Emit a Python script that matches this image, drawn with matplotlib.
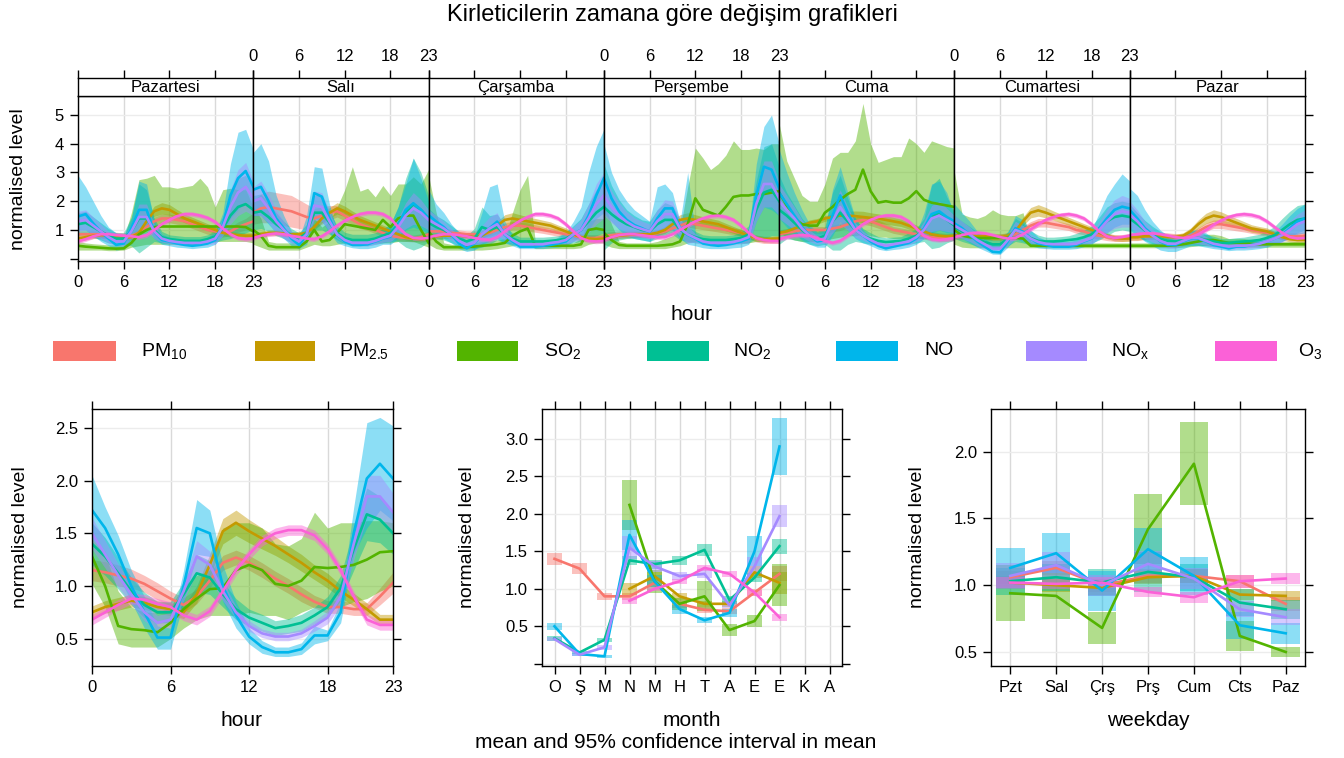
import numpy as np
import matplotlib
matplotlib.use("Agg")
import matplotlib.pyplot as plt
from matplotlib.patches import Rectangle

plt.rcParams['font.family'] = ['Liberation Sans', 'DejaVu Sans']
plt.rcParams['mathtext.default'] = 'regular'

# ---------------- data ----------------
pollutant_labels = ['PM$_{10}$', 'PM$_{2.5}$', 'SO$_{2}$', 'NO$_{2}$', 'NO', 'NO$_{x}$', 'O$_{3}$']
colors = ['#F8766D', '#C49A00', '#53B400', '#00C094', '#00B6EB', '#A58AFF', '#FB61D7']
days = ['Pazartesi', 'Salı', 'Çarşamba', 'Perşembe', 'Cuma', 'Cumartesi', 'Pazar']
hours = list(range(24))
hour_ticks = [0, 6, 12, 18, 23]
months = ['O', 'Ş', 'M', 'N', 'M', 'H', 'T', 'A', 'E', 'E', 'K', 'A']
weekdays = ['Pzt', 'Sal', 'Çrş', 'Prş', 'Cum', 'Cts', 'Paz']
nan = np.nan

# --- day x hour (top panel), 7 days of 24 values ---
week_pm10 = [
    [0.85, 0.85, 0.85, 0.85, 0.82, 0.80, 0.78, 0.80, 0.90, 1.10, 1.30, 1.40, 1.40, 1.35, 1.30, 1.20, 1.10, 1.00, 0.95, 0.90, 0.95, 1.10, 1.20, 1.30],
    [1.60, 1.75, 1.80, 1.75, 1.70, 1.65, 1.55, 1.45, 1.40, 1.50, 1.60, 1.65, 1.50, 1.35, 1.20, 1.10, 1.00, 0.90, 0.80, 0.75, 0.72, 0.70, 0.75, 0.85],
    [0.95, 0.95, 0.95, 0.90, 0.88, 0.85, 0.85, 0.85, 0.90, 1.00, 1.10, 1.15, 1.15, 1.10, 1.05, 1.00, 0.95, 0.90, 0.85, 0.80, 0.75, 0.72, 0.72, 0.75],
    [0.80, 0.82, 0.85, 0.85, 0.85, 0.85, 0.85, 0.88, 0.95, 1.05, 1.15, 1.25, 1.20, 1.15, 1.10, 1.05, 1.00, 0.95, 0.90, 0.80, 0.70, 0.65, 0.65, 0.65],
    [0.85, 0.90, 0.95, 1.00, 1.00, 1.00, 1.00, 1.05, 1.10, 1.20, 1.30, 1.35, 1.30, 1.20, 1.10, 1.00, 0.95, 0.90, 0.85, 0.80, 0.75, 0.72, 0.72, 0.75],
    [0.80, 0.80, 0.80, 0.78, 0.78, 0.75, 0.75, 0.78, 0.85, 1.00, 1.15, 1.25, 1.25, 1.20, 1.15, 1.10, 1.00, 0.95, 0.85, 0.80, 0.75, 0.72, 0.72, 0.75],
    [0.75, 0.75, 0.78, 0.80, 0.80, 0.78, 0.75, 0.75, 0.80, 0.95, 1.10, 1.20, 1.20, 1.15, 1.10, 1.05, 1.00, 0.95, 0.90, 0.85, 0.80, 0.78, 0.78, 0.80],
]
pm10_hw_base = [0.12, 0.12, 0.12, 0.12, 0.12, 0.12, 0.12, 0.12, 0.12, 0.13, 0.14, 0.15, 0.15, 0.14, 0.13, 0.12, 0.12, 0.12, 0.12, 0.12, 0.12, 0.12, 0.12, 0.12]
pm10_hw_mon = [0.12, 0.12, 0.12, 0.12, 0.12, 0.12, 0.12, 0.12, 0.12, 0.12, 0.15, 0.15, 0.15, 0.15, 0.15, 0.15, 0.15, 0.15, 0.15, 0.15, 0.15, 0.18, 0.20, 0.30]
pm10_hw_tue = [0.40, 0.50, 0.55, 0.55, 0.55, 0.55, 0.50, 0.45, 0.35, 0.30, 0.25, 0.20, 0.18, 0.15, 0.15, 0.12, 0.12, 0.12, 0.12, 0.12, 0.12, 0.12, 0.12, 0.12]

week_pm25 = [
    [0.70, 0.75, 0.80, 0.82, 0.80, 0.75, 0.72, 0.75, 0.90, 1.30, 1.65, 1.75, 1.70, 1.55, 1.40, 1.30, 1.20, 1.10, 1.00, 0.90, 0.85, 0.82, 0.80, 0.80],
    [0.80, 0.85, 0.90, 0.90, 0.88, 0.85, 0.85, 0.90, 1.10, 1.40, 1.60, 1.75, 1.65, 1.50, 1.35, 1.25, 1.15, 1.05, 0.95, 0.85, 0.75, 0.70, 0.68, 0.70],
    [0.75, 0.78, 0.80, 0.80, 0.80, 0.78, 0.75, 0.80, 0.95, 1.15, 1.35, 1.40, 1.35, 1.30, 1.25, 1.20, 1.15, 1.05, 0.95, 0.85, 0.75, 0.70, 0.68, 0.70],
    [0.72, 0.75, 0.80, 0.82, 0.85, 0.85, 0.85, 0.90, 1.00, 1.20, 1.35, 1.40, 1.35, 1.30, 1.25, 1.20, 1.10, 1.00, 0.90, 0.80, 0.72, 0.68, 0.68, 0.70],
    [0.90, 0.95, 1.05, 1.15, 1.25, 1.30, 1.40, 1.45, 1.50, 1.50, 1.48, 1.45, 1.42, 1.40, 1.35, 1.30, 1.25, 1.15, 1.05, 0.95, 0.85, 0.80, 0.78, 0.80],
    [0.80, 0.80, 0.80, 0.78, 0.78, 0.75, 0.75, 0.80, 0.95, 1.30, 1.60, 1.68, 1.60, 1.50, 1.40, 1.30, 1.20, 1.10, 1.00, 0.90, 0.80, 0.72, 0.70, 0.70],
    [0.75, 0.75, 0.78, 0.78, 0.78, 0.75, 0.75, 0.80, 0.95, 1.20, 1.40, 1.50, 1.45, 1.35, 1.25, 1.15, 1.05, 1.00, 0.95, 0.85, 0.75, 0.68, 0.65, 0.65],
]
pm25_hw = [0.10, 0.10, 0.10, 0.10, 0.10, 0.10, 0.10, 0.10, 0.12, 0.15, 0.18, 0.20, 0.18, 0.16, 0.15, 0.14, 0.13, 0.12, 0.12, 0.10, 0.10, 0.10, 0.10, 0.10]

week_so2 = [
    [0.45, 0.42, 0.40, 0.38, 0.36, 0.35, 0.36, 0.55, 0.85, 1.00, 1.10, 1.12, 1.12, 1.12, 1.12, 1.12, 1.12, 1.12, 1.12, 1.12, 1.12, 1.12, 1.10, 0.95],
    [1.00, 0.80, 0.45, 0.40, 0.40, 0.40, 0.40, 0.60, 1.00, 0.60, 0.65, 0.90, 1.20, 1.15, 1.10, 1.05, 1.00, 1.35, 1.10, 1.40, 1.50, 1.50, 1.00, 0.55],
    [0.95, 0.60, 0.40, 0.40, 0.40, 0.40, 0.42, 0.45, 0.47, 0.50, 0.55, 0.80, 0.95, 1.05, 0.45, 0.45, 0.45, 0.45, 0.45, 0.45, 0.50, 1.00, 1.05, 1.00],
    [0.90, 0.65, 0.48, 0.45, 0.45, 0.45, 0.45, 0.45, 0.47, 0.50, 0.60, 1.20, 2.10, 1.70, 1.60, 1.50, 1.80, 2.15, 2.20, 2.20, 2.25, 2.25, 2.30, 2.35],
    [2.30, 1.85, 1.40, 1.20, 1.15, 1.15, 1.60, 1.80, 2.05, 2.25, 2.40, 3.10, 2.35, 1.95, 2.00, 1.95, 1.95, 2.10, 2.35, 2.05, 1.95, 1.90, 1.85, 1.80],
    [1.00, 0.80, 0.75, 0.72, 0.72, 0.72, 0.72, 0.72, 0.72, 0.70, 0.45, 0.45, 0.45, 0.45, 0.45, 0.45, 0.45, 0.45, 0.45, 0.45, 0.45, 0.45, 0.45, 0.45],
    [0.45, 0.45, 0.45, 0.45, 0.45, 0.45, 0.47, 0.50, 0.55, 0.60, 0.65, 0.65, 0.60, 0.55, 0.55, 0.55, 0.52, 0.50, 0.50, 0.50, 0.50, 0.50, 0.50, 0.50],
]
week_so2_lo = [
    [0.30, 0.30, 0.30, 0.30, 0.28, 0.28, 0.30, 0.40, 0.45, 0.50, 0.50, 0.50, 0.50, 0.50, 0.50, 0.50, 0.52, 0.55, 0.60, 0.60, 0.60, 0.60, 0.60, 0.55],
    [0.50, 0.40, 0.30, 0.30, 0.30, 0.30, 0.30, 0.40, 0.50, 0.45, 0.45, 0.50, 0.55, 0.55, 0.55, 0.55, 0.55, 0.55, 0.55, 0.60, 0.60, 0.60, 0.50, 0.40],
    [0.50, 0.35, 0.30, 0.30, 0.30, 0.30, 0.30, 0.30, 0.32, 0.35, 0.40, 0.45, 0.50, 0.50, 0.35, 0.35, 0.35, 0.35, 0.35, 0.35, 0.38, 0.50, 0.55, 0.55],
    [0.50, 0.40, 0.35, 0.35, 0.35, 0.35, 0.35, 0.35, 0.35, 0.40, 0.45, 0.55, 0.60, 0.55, 0.50, 0.50, 0.50, 0.55, 0.55, 0.55, 0.60, 0.60, 0.60, 0.60],
    [0.90, 0.75, 0.65, 0.60, 0.60, 0.60, 0.65, 0.70, 0.75, 0.80, 0.80, 0.85, 0.80, 0.75, 0.75, 0.70, 0.70, 0.70, 0.70, 0.70, 0.70, 0.70, 0.70, 0.70],
    [0.50, 0.40, 0.38, 0.38, 0.38, 0.38, 0.38, 0.38, 0.38, 0.38, 0.38, 0.38, 0.38, 0.38, 0.38, 0.38, 0.38, 0.38, 0.38, 0.38, 0.38, 0.38, 0.38, 0.38],
    [0.38, 0.38, 0.38, 0.38, 0.38, 0.38, 0.38, 0.40, 0.42, 0.45, 0.45, 0.45, 0.42, 0.40, 0.40, 0.40, 0.40, 0.40, 0.40, 0.40, 0.40, 0.40, 0.40, 0.40],
]
week_so2_hi = [
    [0.60, 0.55, 0.52, 0.50, 0.48, 0.48, 0.70, 1.60, 2.75, 2.80, 2.90, 2.50, 2.50, 2.45, 2.50, 2.55, 2.80, 2.50, 1.80, 2.40, 2.45, 2.40, 2.40, 1.80],
    [1.80, 1.40, 0.60, 0.55, 0.55, 0.55, 0.55, 0.90, 1.40, 1.10, 1.30, 1.80, 2.40, 3.20, 2.35, 2.45, 2.15, 2.55, 2.20, 2.60, 2.60, 2.85, 2.60, 3.10],
    [2.90, 1.60, 0.55, 0.50, 0.50, 0.50, 0.55, 0.60, 0.62, 0.65, 0.70, 1.60, 2.40, 2.90, 0.60, 0.55, 0.55, 0.55, 0.55, 0.55, 0.70, 1.30, 1.40, 1.40],
    [2.00, 1.20, 0.60, 0.55, 0.55, 0.55, 0.55, 0.60, 0.70, 0.80, 1.00, 2.50, 3.85, 3.50, 3.10, 3.30, 3.60, 4.10, 3.80, 3.80, 3.85, 3.80, 4.00, 4.00],
    [4.70, 3.40, 2.80, 2.20, 2.00, 2.00, 2.60, 3.50, 3.70, 3.70, 4.10, 5.40, 4.00, 3.35, 3.45, 3.55, 3.55, 4.20, 4.00, 3.70, 4.10, 4.00, 3.90, 3.85],
    [3.00, 1.55, 1.45, 1.40, 1.50, 1.70, 1.55, 1.50, 1.50, 1.60, 0.60, 0.55, 0.55, 0.55, 0.55, 0.55, 0.55, 0.55, 0.55, 0.55, 0.55, 0.55, 0.55, 0.55],
    [0.55, 0.55, 0.55, 0.55, 0.55, 0.55, 0.60, 0.65, 0.75, 0.80, 0.85, 0.85, 0.80, 0.70, 0.70, 0.70, 0.65, 0.62, 0.60, 0.60, 0.60, 0.60, 0.60, 0.60],
]

week_no2 = [
    [1.20, 1.25, 1.10, 0.95, 0.80, 0.70, 0.70, 0.95, 1.40, 1.40, 1.00, 0.75, 0.68, 0.65, 0.62, 0.62, 0.62, 0.68, 0.78, 1.05, 1.50, 1.80, 1.90, 1.70],
    [1.60, 1.65, 1.45, 1.20, 1.00, 0.80, 0.70, 0.90, 1.60, 1.60, 1.25, 0.90, 0.72, 0.65, 0.65, 0.65, 0.70, 0.80, 0.90, 1.20, 1.60, 1.90, 1.70, 1.40],
    [1.25, 1.10, 1.00, 0.85, 0.70, 0.60, 0.70, 1.10, 1.00, 1.10, 0.85, 0.70, 0.60, 0.60, 0.60, 0.60, 0.62, 0.65, 0.70, 0.85, 1.00, 1.30, 1.60, 1.80],
    [1.80, 1.55, 1.35, 1.20, 1.10, 1.00, 0.95, 1.20, 1.35, 1.35, 1.00, 0.85, 0.75, 0.68, 0.65, 0.65, 0.65, 0.68, 0.72, 0.85, 1.70, 2.30, 2.40, 2.00],
    [1.70, 1.50, 1.25, 1.00, 0.80, 0.70, 0.80, 1.30, 1.60, 1.30, 1.00, 0.80, 0.70, 0.62, 0.58, 0.60, 0.62, 0.70, 0.80, 1.00, 1.45, 1.60, 1.35, 1.15],
    [1.10, 0.95, 0.82, 0.68, 0.58, 0.50, 0.50, 0.70, 1.00, 0.90, 0.72, 0.62, 0.60, 0.60, 0.62, 0.65, 0.68, 0.75, 0.85, 1.05, 1.30, 1.45, 1.50, 1.45],
    [1.40, 1.20, 0.98, 0.82, 0.70, 0.62, 0.60, 0.65, 0.72, 0.72, 0.65, 0.60, 0.55, 0.55, 0.58, 0.60, 0.62, 0.65, 0.72, 0.82, 1.00, 1.20, 1.35, 1.40],
]
week_no2_hw = [
    [0.40, 0.40, 0.35, 0.30, 0.25, 0.20, 0.20, 0.50, 1.20, 1.00, 0.40, 0.20, 0.15, 0.15, 0.15, 0.15, 0.15, 0.15, 0.20, 0.40, 0.80, 1.00, 1.00, 0.70],
    [0.60, 0.60, 0.50, 0.40, 0.30, 0.25, 0.20, 0.30, 0.60, 0.60, 0.40, 0.25, 0.20, 0.20, 0.20, 0.20, 0.20, 0.25, 0.30, 0.60, 1.20, 1.60, 1.30, 0.80],
    [0.50, 0.40, 0.35, 0.30, 0.25, 0.20, 0.35, 0.70, 0.50, 0.45, 0.30, 0.20, 0.15, 0.15, 0.15, 0.15, 0.15, 0.15, 0.20, 0.30, 0.40, 0.60, 0.80, 0.90],
    [1.50, 1.00, 0.70, 0.50, 0.40, 0.35, 0.35, 0.50, 0.60, 0.50, 0.35, 0.25, 0.20, 0.15, 0.15, 0.15, 0.15, 0.15, 0.20, 0.30, 1.00, 1.60, 1.60, 1.20],
    [1.20, 0.80, 0.60, 0.40, 0.30, 0.25, 0.30, 1.00, 1.30, 0.80, 0.40, 0.25, 0.20, 0.15, 0.15, 0.15, 0.15, 0.20, 0.25, 0.40, 1.10, 1.20, 0.80, 0.50],
    [0.40, 0.35, 0.30, 0.25, 0.20, 0.15, 0.15, 0.25, 0.40, 0.35, 0.25, 0.20, 0.15, 0.15, 0.15, 0.15, 0.20, 0.25, 0.30, 0.40, 0.50, 0.50, 0.50, 0.50],
    [0.50, 0.40, 0.35, 0.30, 0.25, 0.20, 0.20, 0.20, 0.25, 0.25, 0.20, 0.18, 0.15, 0.15, 0.15, 0.15, 0.18, 0.20, 0.25, 0.30, 0.40, 0.45, 0.50, 0.50],
]

week_no = [
    [1.47, 1.55, 1.23, 0.94, 0.70, 0.48, 0.53, 1.06, 1.70, 1.70, 0.94, 0.65, 0.60, 0.53, 0.48, 0.45, 0.48, 0.53, 0.65, 1.17, 2.20, 2.80, 3.05, 2.50],
    [2.40, 2.50, 2.00, 1.40, 1.06, 0.70, 0.48, 0.83, 2.28, 2.16, 1.40, 0.83, 0.60, 0.48, 0.48, 0.50, 0.60, 0.70, 0.77, 1.17, 1.70, 1.93, 1.70, 1.40],
    [1.52, 1.29, 1.10, 0.83, 0.53, 0.36, 0.53, 0.83, 1.06, 1.29, 0.83, 0.60, 0.42, 0.42, 0.42, 0.45, 0.48, 0.53, 0.60, 0.83, 1.00, 1.50, 2.20, 2.80],
    [2.80, 2.10, 1.64, 1.35, 1.17, 1.06, 0.94, 1.40, 1.75, 1.75, 1.06, 0.83, 0.70, 0.53, 0.48, 0.45, 0.48, 0.53, 0.60, 0.70, 2.20, 3.20, 3.10, 2.45],
    [2.30, 1.90, 1.50, 1.10, 0.80, 0.60, 0.65, 1.50, 2.20, 1.60, 1.05, 0.80, 0.60, 0.45, 0.36, 0.42, 0.48, 0.55, 0.70, 1.05, 1.55, 1.65, 1.45, 1.30],
    [1.23, 1.06, 0.83, 0.60, 0.42, 0.24, 0.22, 0.60, 1.06, 0.94, 0.70, 0.53, 0.48, 0.42, 0.42, 0.42, 0.48, 0.60, 0.70, 1.06, 1.40, 1.70, 1.81, 1.75],
    [1.70, 1.40, 1.06, 0.83, 0.60, 0.48, 0.48, 0.60, 0.70, 0.70, 0.60, 0.48, 0.42, 0.36, 0.42, 0.42, 0.48, 0.53, 0.60, 0.70, 0.83, 1.06, 1.29, 1.40],
]
week_no_lo = [
    [1.00, 1.00, 0.80, 0.60, 0.45, 0.30, 0.35, 0.70, 1.10, 1.10, 0.70, 0.50, 0.45, 0.40, 0.38, 0.35, 0.38, 0.40, 0.50, 0.80, 1.40, 1.70, 2.00, 1.60],
    [1.50, 1.50, 1.20, 0.90, 0.70, 0.45, 0.35, 0.50, 1.40, 1.30, 0.90, 0.55, 0.45, 0.38, 0.35, 0.35, 0.40, 0.50, 0.50, 0.70, 1.00, 1.10, 1.00, 0.90],
    [1.00, 0.90, 0.70, 0.55, 0.35, 0.25, 0.30, 0.50, 0.60, 0.70, 0.55, 0.45, 0.35, 0.35, 0.35, 0.35, 0.38, 0.40, 0.45, 0.60, 0.80, 1.00, 1.40, 1.60],
    [1.60, 1.30, 1.00, 0.80, 0.70, 0.65, 0.60, 0.80, 1.00, 1.00, 0.70, 0.50, 0.45, 0.38, 0.35, 0.35, 0.35, 0.38, 0.40, 0.50, 1.30, 1.80, 1.70, 1.50],
    [1.40, 1.10, 0.85, 0.65, 0.50, 0.40, 0.40, 0.80, 1.30, 1.00, 0.70, 0.55, 0.45, 0.33, 0.28, 0.32, 0.35, 0.40, 0.50, 0.70, 0.90, 1.00, 0.90, 0.90],
    [0.80, 0.70, 0.55, 0.40, 0.28, 0.16, 0.15, 0.40, 0.70, 0.60, 0.45, 0.38, 0.35, 0.33, 0.33, 0.33, 0.35, 0.42, 0.50, 0.70, 0.90, 1.10, 1.20, 1.20],
    [1.00, 0.80, 0.60, 0.45, 0.30, 0.25, 0.25, 0.35, 0.45, 0.45, 0.40, 0.35, 0.32, 0.28, 0.30, 0.30, 0.32, 0.35, 0.40, 0.50, 0.60, 0.75, 0.90, 1.00],
]
week_no_hi = [
    [2.90, 2.50, 2.00, 1.50, 1.10, 0.90, 0.80, 1.40, 2.70, 2.60, 1.30, 0.85, 0.75, 0.70, 0.65, 0.65, 0.65, 0.75, 0.90, 1.60, 3.30, 4.40, 4.50, 3.80],
    [3.70, 4.00, 3.40, 2.20, 1.50, 0.95, 0.70, 1.50, 3.20, 3.15, 1.90, 0.95, 0.75, 0.65, 0.62, 0.65, 0.75, 0.90, 1.20, 1.80, 2.60, 3.50, 2.80, 2.00],
    [2.40, 1.90, 1.60, 1.20, 0.90, 0.60, 0.75, 1.60, 2.50, 2.60, 1.30, 0.80, 0.60, 0.58, 0.55, 0.55, 0.60, 0.75, 0.90, 1.30, 1.80, 3.00, 3.90, 4.50],
    [4.00, 3.00, 2.40, 2.00, 1.70, 1.50, 1.30, 2.50, 2.60, 2.30, 1.30, 3.00, 0.90, 0.70, 0.65, 0.62, 0.62, 0.65, 0.70, 0.90, 3.30, 4.60, 5.00, 4.00],
    [3.80, 3.00, 2.30, 1.70, 1.20, 0.90, 1.00, 2.40, 3.20, 2.30, 1.40, 1.00, 0.75, 0.60, 0.50, 0.55, 0.62, 0.70, 0.90, 1.60, 2.60, 2.70, 2.30, 1.50],
    [1.90, 1.60, 1.30, 0.95, 0.70, 0.50, 0.45, 0.90, 1.50, 1.35, 1.00, 0.75, 0.65, 0.60, 0.60, 0.60, 0.65, 0.80, 1.00, 1.60, 2.20, 2.60, 2.95, 2.70],
    [2.45, 2.20, 1.70, 1.30, 1.00, 0.80, 0.70, 0.80, 1.00, 1.00, 0.90, 0.70, 0.60, 0.50, 0.55, 0.55, 0.60, 0.65, 0.80, 0.95, 1.20, 1.50, 1.75, 1.90],
]

week_nox = [
    [1.30, 1.35, 1.15, 0.95, 0.75, 0.60, 0.60, 0.95, 1.45, 1.45, 0.95, 0.70, 0.62, 0.58, 0.55, 0.55, 0.55, 0.60, 0.70, 1.10, 1.80, 2.30, 2.50, 2.10],
    [2.00, 2.10, 1.75, 1.30, 1.00, 0.75, 0.60, 0.85, 1.85, 1.80, 1.30, 0.85, 0.65, 0.55, 0.55, 0.55, 0.62, 0.72, 0.80, 1.10, 1.50, 1.75, 1.60, 1.35],
    [1.35, 1.20, 1.05, 0.85, 0.62, 0.48, 0.55, 0.85, 1.05, 1.20, 0.85, 0.65, 0.50, 0.50, 0.50, 0.50, 0.55, 0.58, 0.65, 0.85, 1.00, 1.40, 1.90, 2.20],
    [2.20, 1.80, 1.50, 1.28, 1.12, 1.03, 0.95, 1.30, 1.55, 1.55, 1.05, 0.85, 0.72, 0.60, 0.55, 0.55, 0.55, 0.58, 0.65, 0.75, 1.90, 2.60, 2.60, 2.10],
    [2.00, 1.70, 1.40, 1.05, 0.80, 0.65, 0.70, 1.30, 1.80, 1.40, 1.00, 0.80, 0.65, 0.52, 0.45, 0.50, 0.55, 0.60, 0.75, 1.00, 1.40, 1.50, 1.35, 1.20],
    [1.15, 1.00, 0.85, 0.65, 0.50, 0.35, 0.35, 0.65, 1.00, 0.90, 0.70, 0.58, 0.52, 0.50, 0.50, 0.50, 0.52, 0.62, 0.72, 1.00, 1.30, 1.55, 1.65, 1.60],
    [1.55, 1.30, 1.00, 0.80, 0.62, 0.52, 0.52, 0.62, 0.72, 0.72, 0.62, 0.52, 0.47, 0.42, 0.45, 0.45, 0.47, 0.52, 0.60, 0.70, 0.82, 1.00, 1.20, 1.30],
]
week_nox_hw = [
    [0.35, 0.35, 0.30, 0.25, 0.20, 0.15, 0.15, 0.25, 0.45, 0.45, 0.25, 0.12, 0.10, 0.10, 0.10, 0.10, 0.10, 0.12, 0.18, 0.30, 0.60, 0.80, 0.85, 0.60],
    [0.50, 0.60, 0.50, 0.40, 0.30, 0.20, 0.15, 0.20, 0.50, 0.50, 0.35, 0.15, 0.10, 0.10, 0.10, 0.10, 0.12, 0.15, 0.20, 0.30, 0.45, 0.55, 0.45, 0.35],
    [0.35, 0.30, 0.25, 0.20, 0.15, 0.12, 0.15, 0.30, 0.40, 0.40, 0.20, 0.12, 0.10, 0.10, 0.10, 0.10, 0.10, 0.12, 0.15, 0.25, 0.35, 0.50, 0.70, 0.80],
    [0.70, 0.55, 0.45, 0.35, 0.30, 0.28, 0.25, 0.40, 0.50, 0.45, 0.30, 0.30, 0.15, 0.12, 0.10, 0.10, 0.10, 0.10, 0.12, 0.20, 0.60, 0.80, 0.80, 0.60],
    [0.60, 0.50, 0.40, 0.30, 0.20, 0.15, 0.15, 0.40, 0.60, 0.40, 0.25, 0.15, 0.12, 0.10, 0.10, 0.10, 0.10, 0.12, 0.15, 0.30, 0.45, 0.50, 0.40, 0.30],
    [0.35, 0.30, 0.25, 0.20, 0.15, 0.10, 0.10, 0.20, 0.30, 0.25, 0.15, 0.12, 0.10, 0.10, 0.10, 0.10, 0.10, 0.12, 0.18, 0.30, 0.40, 0.50, 0.55, 0.50],
    [0.45, 0.40, 0.30, 0.22, 0.18, 0.15, 0.15, 0.15, 0.20, 0.20, 0.15, 0.12, 0.10, 0.10, 0.10, 0.10, 0.10, 0.12, 0.15, 0.18, 0.25, 0.30, 0.35, 0.40],
]

week_o3 = [
    [0.60, 0.68, 0.78, 0.85, 0.85, 0.82, 0.80, 0.78, 0.75, 0.82, 1.00, 1.20, 1.35, 1.48, 1.55, 1.55, 1.50, 1.42, 1.28, 1.05, 0.85, 0.72, 0.68, 0.70],
    [0.72, 0.80, 0.85, 0.88, 0.85, 0.80, 0.75, 0.70, 0.68, 0.78, 0.95, 1.15, 1.32, 1.45, 1.55, 1.60, 1.60, 1.55, 1.40, 1.10, 0.85, 0.72, 0.70, 0.72],
    [0.75, 0.80, 0.85, 0.85, 0.82, 0.78, 0.72, 0.68, 0.65, 0.75, 0.95, 1.15, 1.32, 1.45, 1.55, 1.55, 1.50, 1.40, 1.20, 0.95, 0.72, 0.62, 0.60, 0.62],
    [0.65, 0.75, 0.82, 0.85, 0.85, 0.82, 0.78, 0.75, 0.75, 0.85, 1.00, 1.15, 1.30, 1.40, 1.48, 1.50, 1.45, 1.35, 1.15, 0.90, 0.72, 0.65, 0.62, 0.62],
    [0.68, 0.75, 0.80, 0.82, 0.80, 0.72, 0.62, 0.55, 0.62, 0.80, 1.00, 1.20, 1.35, 1.45, 1.50, 1.50, 1.45, 1.30, 1.05, 0.80, 0.68, 0.65, 0.68, 0.72],
    [0.75, 0.82, 0.88, 0.90, 0.88, 0.82, 0.75, 0.70, 0.72, 0.85, 1.02, 1.20, 1.35, 1.45, 1.52, 1.55, 1.50, 1.40, 1.20, 0.95, 0.78, 0.72, 0.75, 0.80],
    [0.82, 0.85, 0.88, 0.88, 0.85, 0.80, 0.75, 0.72, 0.75, 0.85, 1.00, 1.18, 1.33, 1.45, 1.52, 1.55, 1.52, 1.45, 1.30, 1.10, 0.90, 0.75, 0.70, 0.72],
]
o3_hw = [0.08, 0.08, 0.08, 0.08, 0.08, 0.08, 0.08, 0.08, 0.08, 0.08, 0.08, 0.08, 0.08, 0.08, 0.08, 0.08, 0.08, 0.08, 0.08, 0.08, 0.08, 0.08, 0.08, 0.08]

# --- hour of day (bottom left) ---
hour_pm10 = [1.15, 1.13, 1.10, 1.07, 1.02, 0.95, 0.88, 0.82, 0.90, 1.05, 1.22, 1.27, 1.22, 1.15, 1.07, 1.00, 0.92, 0.85, 0.80, 0.80, 0.78, 0.78, 0.90, 1.03]
hour_pm10_hw = [0.10, 0.10, 0.10, 0.09, 0.08, 0.08, 0.07, 0.07, 0.07, 0.07, 0.07, 0.07, 0.07, 0.07, 0.07, 0.07, 0.07, 0.06, 0.06, 0.06, 0.06, 0.06, 0.08, 0.10]
hour_pm25 = [0.75, 0.80, 0.83, 0.86, 0.84, 0.80, 0.78, 0.75, 0.92, 1.20, 1.52, 1.60, 1.52, 1.45, 1.38, 1.30, 1.22, 1.13, 1.05, 0.95, 0.87, 0.78, 0.68, 0.68]
hour_pm25_hw = [0.06, 0.06, 0.06, 0.06, 0.06, 0.06, 0.06, 0.06, 0.08, 0.10, 0.12, 0.12, 0.11, 0.10, 0.09, 0.08, 0.08, 0.07, 0.07, 0.06, 0.06, 0.06, 0.05, 0.05]
hour_so2 = [1.28, 1.00, 0.62, 0.59, 0.58, 0.56, 0.65, 0.78, 0.88, 0.97, 0.98, 1.15, 1.20, 1.15, 1.02, 1.00, 1.05, 1.18, 1.17, 1.18, 1.20, 1.25, 1.32, 1.33]
hour_so2_lo = [1.02, 0.80, 0.45, 0.42, 0.42, 0.42, 0.50, 0.60, 0.68, 0.72, 0.72, 0.72, 0.75, 0.72, 0.72, 0.68, 0.75, 0.80, 0.78, 0.80, 0.85, 0.88, 0.95, 1.00]
hour_so2_hi = [1.45, 1.30, 0.95, 0.80, 0.75, 0.75, 0.80, 1.00, 1.10, 1.15, 1.55, 1.60, 1.60, 1.55, 1.40, 1.38, 1.45, 1.70, 1.55, 1.60, 1.60, 1.62, 1.62, 1.60]
hour_no2 = [1.40, 1.28, 1.12, 0.95, 0.82, 0.75, 0.75, 0.92, 1.12, 1.08, 0.92, 0.78, 0.70, 0.65, 0.60, 0.62, 0.65, 0.72, 0.80, 0.98, 1.35, 1.68, 1.63, 1.50]
hour_no2_hw = [0.20, 0.18, 0.15, 0.13, 0.12, 0.10, 0.10, 0.12, 0.18, 0.16, 0.12, 0.10, 0.08, 0.08, 0.07, 0.07, 0.08, 0.08, 0.10, 0.12, 0.20, 0.25, 0.22, 0.20]
hour_no = [1.72, 1.55, 1.30, 1.00, 0.75, 0.51, 0.51, 1.00, 1.55, 1.50, 1.00, 0.72, 0.52, 0.42, 0.37, 0.37, 0.40, 0.53, 0.53, 0.75, 1.50, 2.02, 2.16, 2.02]
hour_no_lo = [1.45, 1.30, 1.10, 0.85, 0.60, 0.40, 0.40, 0.85, 1.30, 1.28, 0.85, 0.60, 0.45, 0.36, 0.33, 0.33, 0.35, 0.45, 0.48, 0.65, 1.30, 1.55, 1.72, 1.62]
hour_no_hi = [2.05, 1.75, 1.48, 1.15, 0.90, 0.62, 0.60, 1.15, 1.82, 1.72, 1.20, 0.85, 0.60, 0.48, 0.42, 0.42, 0.46, 0.62, 0.58, 0.85, 1.75, 2.55, 2.60, 2.52]
hour_nox = [1.50, 1.30, 1.10, 0.92, 0.75, 0.65, 0.68, 0.95, 1.28, 1.20, 0.95, 0.75, 0.62, 0.55, 0.52, 0.52, 0.55, 0.62, 0.70, 0.90, 1.40, 1.85, 1.85, 1.70]
hour_nox_hw = [0.15, 0.13, 0.11, 0.09, 0.08, 0.07, 0.07, 0.09, 0.15, 0.13, 0.09, 0.06, 0.05, 0.04, 0.04, 0.04, 0.04, 0.05, 0.06, 0.09, 0.15, 0.20, 0.20, 0.18]
hour_o3 = [0.68, 0.75, 0.82, 0.88, 0.87, 0.83, 0.80, 0.72, 0.68, 0.76, 0.95, 1.15, 1.30, 1.43, 1.50, 1.53, 1.53, 1.48, 1.35, 1.15, 0.90, 0.68, 0.63, 0.63]
hour_o3_hw = [0.05, 0.05, 0.05, 0.05, 0.05, 0.05, 0.05, 0.05, 0.05, 0.05, 0.05, 0.05, 0.05, 0.05, 0.05, 0.05, 0.05, 0.05, 0.05, 0.05, 0.05, 0.05, 0.05, 0.05]

# --- month (bottom middle) ---
month_pm10 = [1.40, 1.27, 0.90, 0.90, 1.08, 0.80, 0.72, 0.70, 0.95, 1.20, nan, nan]
month_pm10_hw = [0.08, 0.07, 0.05, 0.05, 0.06, 0.05, 0.04, 0.04, 0.05, 0.10, nan, nan]
month_pm25 = [nan, nan, nan, 1.00, 1.17, 0.90, 0.80, 0.80, 1.22, 1.08, nan, nan]
month_pm25_hw = [nan, nan, nan, 0.08, 0.06, 0.05, 0.04, 0.04, 0.08, 0.15, nan, nan]
month_so2 = [nan, nan, nan, 2.12, 1.10, 0.80, 0.90, 0.45, 0.57, 1.05, nan, nan]
month_so2_hw = [nan, nan, nan, 0.33, 0.15, 0.08, 0.20, 0.08, 0.08, 0.28, nan, nan]
month_no2 = [0.34, 0.15, 0.32, 1.38, 1.33, 1.38, 1.52, 0.85, 1.15, 1.57, nan, nan]
month_no2_hw = [0.03, 0.02, 0.03, 0.06, 0.06, 0.06, 0.08, 0.05, 0.06, 0.10, nan, nan]
month_no = [0.50, 0.13, 0.10, 1.72, 1.10, 0.73, 0.58, 0.68, 1.50, 2.90, nan, nan]
month_no_hw = [0.05, 0.02, 0.02, 0.20, 0.08, 0.06, 0.04, 0.05, 0.20, 0.38, nan, nan]
month_nox = [0.33, 0.12, 0.22, 1.55, 1.30, 1.17, 1.20, 0.78, 1.30, 1.97, nan, nan]
month_nox_hw = [0.03, 0.02, 0.03, 0.15, 0.07, 0.05, 0.06, 0.04, 0.12, 0.15, nan, nan]
month_o3 = [nan, nan, nan, 0.84, 1.00, 1.10, 1.28, 1.20, 0.95, 0.62, nan, nan]
month_o3_hw = [nan, nan, nan, 0.04, 0.03, 0.03, 0.04, 0.04, 0.04, 0.05, nan, nan]

# --- weekday (bottom right) ---
wd_pm10 = [1.06, 1.13, 1.00, 1.07, 1.07, 1.03, 0.86]
wd_pm10_hw = [0.05, 0.05, 0.05, 0.05, 0.05, 0.05, 0.05]
wd_pm25 = [1.02, 1.00, 0.98, 1.06, 1.07, 0.93, 0.92]
wd_pm25_hw = [0.05, 0.05, 0.05, 0.05, 0.05, 0.04, 0.04]
wd_so2 = [0.94, 0.92, 0.68, 1.42, 1.91, 0.62, 0.50]
wd_so2_hw = [0.21, 0.17, 0.12, 0.26, 0.31, 0.11, 0.04]
wd_no2 = [1.03, 1.06, 1.02, 1.10, 1.06, 0.87, 0.82]
wd_no2_hw = [0.10, 0.10, 0.10, 0.15, 0.10, 0.10, 0.07]
wd_no = [1.13, 1.24, 0.96, 1.27, 1.07, 0.70, 0.64]
wd_no_hw = [0.15, 0.15, 0.15, 0.16, 0.14, 0.10, 0.08]
wd_nox = [1.07, 1.15, 1.00, 1.16, 1.05, 0.82, 0.76]
wd_nox_hw = [0.10, 0.10, 0.08, 0.10, 0.08, 0.06, 0.06]
wd_o3 = [1.02, 1.01, 1.02, 0.95, 0.91, 1.03, 1.05]
wd_o3_hw = [0.04, 0.04, 0.04, 0.04, 0.04, 0.05, 0.04]

# ---------------- assemble bands ----------------
def sym(mean, hw):
    m, h = np.asarray(mean, float), np.asarray(hw, float)
    return m - h, m + h

pm10_hw_days = [pm10_hw_mon, pm10_hw_tue] + [pm10_hw_base] * 5
week_mean = [week_pm10, week_pm25, week_so2, week_no2, week_no, week_nox, week_o3]
week_band = [
    [sym(week_pm10[d], pm10_hw_days[d]) for d in range(7)],
    [sym(week_pm25[d], pm25_hw) for d in range(7)],
    [(np.array(week_so2_lo[d]), np.array(week_so2_hi[d])) for d in range(7)],
    [sym(week_no2[d], week_no2_hw[d]) for d in range(7)],
    [(np.array(week_no_lo[d]), np.array(week_no_hi[d])) for d in range(7)],
    [sym(week_nox[d], week_nox_hw[d]) for d in range(7)],
    [sym(week_o3[d], o3_hw) for d in range(7)],
]
hour_mean = [hour_pm10, hour_pm25, hour_so2, hour_no2, hour_no, hour_nox, hour_o3]
hour_band = [sym(hour_pm10, hour_pm10_hw), sym(hour_pm25, hour_pm25_hw),
             (np.array(hour_so2_lo), np.array(hour_so2_hi)), sym(hour_no2, hour_no2_hw),
             (np.array(hour_no_lo), np.array(hour_no_hi)), sym(hour_nox, hour_nox_hw),
             sym(hour_o3, hour_o3_hw)]
month_mean = [month_pm10, month_pm25, month_so2, month_no2, month_no, month_nox, month_o3]
month_hw = [month_pm10_hw, month_pm25_hw, month_so2_hw, month_no2_hw, month_no_hw, month_nox_hw, month_o3_hw]
wd_mean = [wd_pm10, wd_pm25, wd_so2, wd_no2, wd_no, wd_nox, wd_o3]
wd_hw = [wd_pm10_hw, wd_pm25_hw, wd_so2_hw, wd_no2_hw, wd_no_hw, wd_nox_hw, wd_o3_hw]

# ---------------- figure ----------------
W, H = 1344, 758
fig = plt.figure(figsize=(W / 100, H / 100), dpi=100, facecolor='white')
BAND_ALPHA = 0.45
LW = 1.9
TICK_LEN = 6
TICK_FS = 12
LABEL_FS = 14


def box(x0, y0, x1, y1):
    return [x0 / W, 1 - y1 / H, (x1 - x0) / W, (y1 - y0) / H]


def frame(ax):
    for s in ax.spines.values():
        s.set_linewidth(1.0)
        s.set_color('black')
    ax.tick_params(direction='out', length=TICK_LEN, width=1, labelsize=TICK_FS,
                   colors='black', pad=4)
    ax.set_axisbelow(True)


fig.text(672 / W, 1 - 15 / H, 'Kirleticilerin zamana göre değişim grafikleri',
         ha='center', va='center', fontsize=17)

# ---- top panel: one axes per day ----
x_left, x_right = 78, 1305
day_w = (x_right - x_left) / 7
for d in range(7):
    x0 = x_left + d * day_w
    ax = fig.add_axes(box(x0, 96, x0 + day_w, 261))
    frame(ax)
    for p in range(7):
        lo, hi = week_band[p][d]
        ax.fill_between(hours, lo, hi, color=colors[p], alpha=BAND_ALPHA, lw=0)
    for p in range(7):
        ax.plot(hours, week_mean[p][d], color=colors[p], lw=LW, solid_joinstyle='round')
    ax.set_xlim(0, 23)
    ax.set_ylim(-0.08, 5.66)
    ax.set_xticks(hour_ticks)
    ax.set_yticks(range(6))
    ax.set_yticklabels(['', '1', '2', '3', '4', '5'])
    ax.tick_params(axis='x', labelbottom=(d % 2 == 0))
    ax.tick_params(axis='y', left=(d == 0), labelleft=(d == 0), right=(d == 6), labelright=False)
    ax.xaxis.grid(True, color='#d9d9d9', lw=1)
    ax.yaxis.grid(True, color='#ececec', lw=1)

    st = fig.add_axes(box(x0, 78, x0 + day_w, 96))
    frame(st)
    st.set_xlim(0, 23)
    st.set_ylim(0, 1)
    st.set_yticks([])
    st.set_xticks(hour_ticks)
    st.tick_params(axis='x', top=True, bottom=False, labeltop=(d % 2 == 1), labelbottom=False)
    st.text(11.5, 0.45, days[d], ha='center', va='center', fontsize=12)

fig.text(19 / W, 1 - 179 / H, 'normalised level', rotation=90, ha='center', va='center', fontsize=LABEL_FS)
fig.text(691 / W, 1 - 320 / H, 'hour', ha='center', va='baseline', fontsize=15)

# ---- legend ----
legend_pos = [(53, 116, 141), (255, 315, 339), (457, 518, 544), (647, 709, 733),
              (836, 898, 924), (1026, 1087, 1111), (1215, 1277, 1298)]
for p, (px0, px1, tx) in enumerate(legend_pos):
    fig.add_artist(Rectangle((px0 / W, 1 - 361 / H), (px1 - px0) / W, 20 / H,
                             transform=fig.transFigure, color=colors[p], lw=0))
    fig.text(tx / W, 1 - 351 / H, pollutant_labels[p], ha='left', va='center', fontsize=14)

# ---- bottom left: hour ----
ax = fig.add_axes(box(92, 409, 393, 666))
frame(ax)
for p in range(7):
    lo, hi = hour_band[p]
    ax.fill_between(hours, lo, hi, color=colors[p], alpha=BAND_ALPHA, lw=0)
for p in range(7):
    ax.plot(hours, hour_mean[p], color=colors[p], lw=LW, solid_joinstyle='round')
ax.set_xlim(0, 23)
ax.set_ylim(0.24, 2.68)
ax.set_xticks(hour_ticks)
ax.set_yticks([0.5, 1.0, 1.5, 2.0, 2.5])
ax.set_yticklabels(['0.5', '1.0', '1.5', '2.0', '2.5'])
ax.tick_params(top=True, right=True, labeltop=False, labelright=False)
ax.xaxis.grid(True, color='#d9d9d9', lw=1)
ax.yaxis.grid(True, color='#ececec', lw=1)
fig.text(21 / W, 1 - 537 / H, 'normalised level', rotation=90, ha='center', va='center', fontsize=LABEL_FS)
fig.text(242 / W, 1 - 726 / H, 'hour', ha='center', va='baseline', fontsize=15)

# ---- bottom middle: month ----
mx = np.arange(1, 13)
ax = fig.add_axes(box(542, 409, 842, 666))
frame(ax)
for p in range(7):
    m = np.asarray(month_mean[p], float)
    h = np.asarray(month_hw[p], float)
    for i in range(12):
        if not np.isnan(m[i]):
            ax.add_patch(Rectangle((mx[i] - 0.3, m[i] - h[i]), 0.6, 2 * h[i],
                                   color=colors[p], alpha=BAND_ALPHA, lw=0))
for p in range(7):
    ax.plot(mx, month_mean[p], color=colors[p], lw=LW, solid_joinstyle='round')
ax.set_xlim(0.5, 12.5)
ax.set_ylim(-0.03, 3.40)
ax.set_xticks(mx)
ax.set_xticklabels(months)
ax.set_yticks([0, 0.5, 1.0, 1.5, 2.0, 2.5, 3.0])
ax.set_yticklabels(['', '0.5', '1.0', '1.5', '2.0', '2.5', '3.0'])
ax.tick_params(top=True, right=True, labeltop=False, labelright=False)
ax.xaxis.grid(True, color='#d9d9d9', lw=1)
ax.yaxis.grid(True, color='#ececec', lw=1)
fig.text(468 / W, 1 - 537 / H, 'normalised level', rotation=90, ha='center', va='center', fontsize=LABEL_FS)
fig.text(692 / W, 1 - 726 / H, 'month', ha='center', va='baseline', fontsize=15)
fig.text(676 / W, 1 - 748 / H, 'mean and 95% confidence interval in mean',
         ha='center', va='baseline', fontsize=15)

# ---- bottom right: weekday ----
wx = np.arange(1, 8)
ax = fig.add_axes(box(991, 409, 1305, 666))
frame(ax)
for p in range(7):
    for i in range(7):
        ax.add_patch(Rectangle((wx[i] - 0.31, wd_mean[p][i] - wd_hw[p][i]), 0.62, 2 * wd_hw[p][i],
                               color=colors[p], alpha=BAND_ALPHA, lw=0))
for p in range(7):
    ax.plot(wx, wd_mean[p], color=colors[p], lw=LW, solid_joinstyle='round')
ax.set_xlim(0.58, 7.42)
ax.set_ylim(0.395, 2.32)
ax.set_xticks(wx)
ax.set_xticklabels(weekdays)
ax.set_yticks([0.5, 1.0, 1.5, 2.0])
ax.set_yticklabels(['0.5', '1.0', '1.5', '2.0'])
ax.tick_params(top=True, right=True, labeltop=False, labelright=False)
ax.xaxis.grid(True, color='#d9d9d9', lw=1)
ax.yaxis.grid(True, color='#ececec', lw=1)
fig.text(917 / W, 1 - 537 / H, 'normalised level', rotation=90, ha='center', va='center', fontsize=LABEL_FS)
fig.text(1148 / W, 1 - 726 / H, 'weekday', ha='center', va='baseline', fontsize=15)

fig.savefig('out.png', dpi=100, facecolor='white')
